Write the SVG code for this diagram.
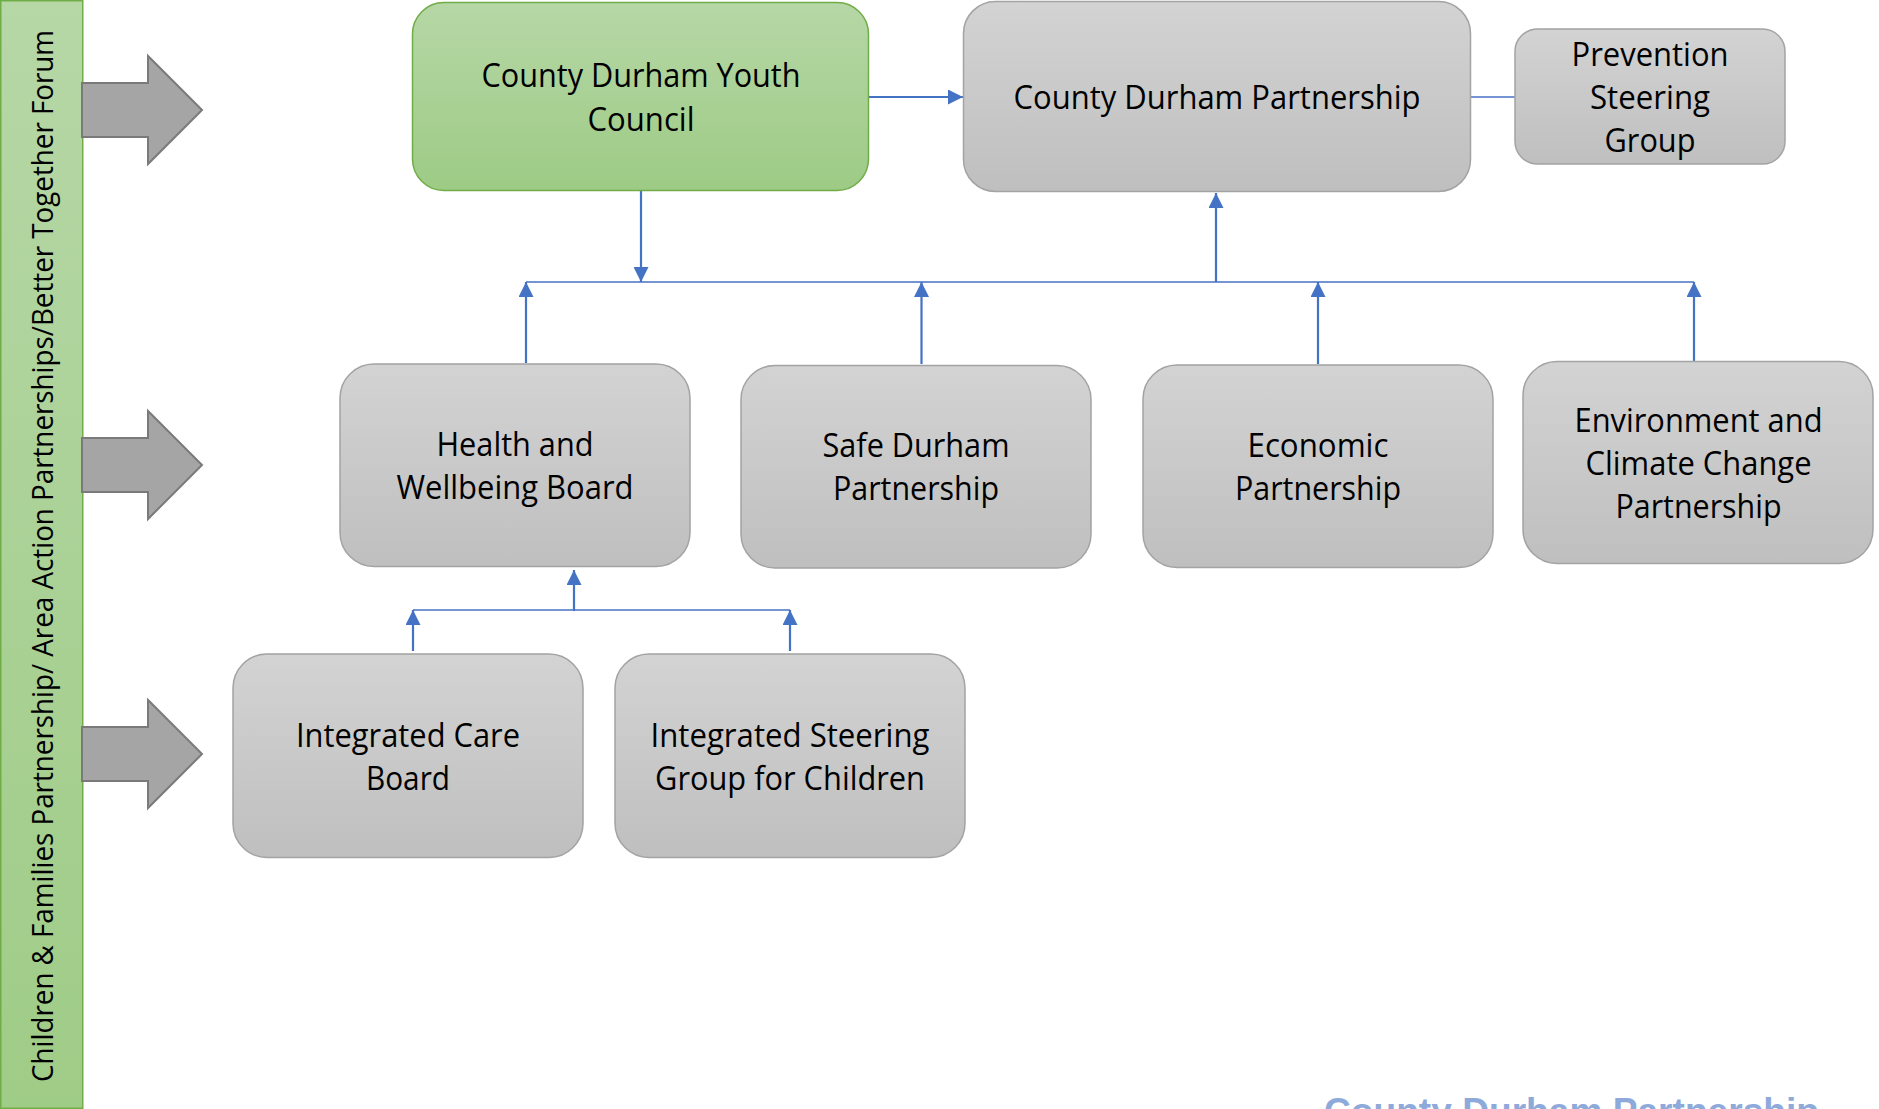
<svg xmlns="http://www.w3.org/2000/svg" width="1879" height="1109" viewBox="0 0 1879 1109">
<style>
.box{fill:url(#gGray);stroke:#a3a3a3;stroke-width:1.5}
.gbox{fill:url(#gGreen);stroke:#70ad47;stroke-width:1.5}
.t{font-family:"Open Sans","Noto Sans",sans-serif;font-size:32px;fill:#000;text-anchor:middle}
.c{fill:none;stroke:#4472c4;stroke-width:2.2}
.cb{fill:none;stroke:#4472c4;stroke-width:1.5}
.blk{fill:#a5a5a5;stroke:#7a7a7a;stroke-width:2}
</style>
<defs>
<linearGradient id="gGray" x1="0" y1="0" x2="0" y2="1">
<stop offset="0" stop-color="#d3d3d3"/><stop offset="1" stop-color="#bfbfbf"/>
</linearGradient>
<linearGradient id="gGreen" x1="0" y1="0" x2="0" y2="1">
<stop offset="0" stop-color="#b6d7a6"/><stop offset="1" stop-color="#9dcb85"/>
</linearGradient>
<linearGradient id="gBar" x1="0" y1="0" x2="0" y2="1">
<stop offset="0" stop-color="#b6d7a6"/><stop offset="1" stop-color="#9fcc87"/>
</linearGradient>
<marker id="ah" markerUnits="userSpaceOnUse" markerWidth="15" markerHeight="15" refX="15" refY="7.5" orient="auto">
<path d="M0,0 L15,7.5 L0,15 z" fill="#4472c4"/>
</marker>
</defs>
<rect width="1879" height="1109" fill="#fff"/>

<g id="sidebar">
<rect x="0.75" y="0.75" width="82" height="1107.5" fill="url(#gBar)" stroke="#70ad47" stroke-width="1.5"/>
<text class="t" transform="translate(53,1082) rotate(-90)" style="text-anchor:start;font-size:29.5px" textLength="1052" lengthAdjust="spacingAndGlyphs">Children &amp; Families Partnership/ Area Action Partnerships/Better Together Forum</text>
</g>

<g id="block-arrows">
<polygon class="blk" points="82,83 148,83 148,56 202,110 148,164 148,137 82,137"/>
<polygon class="blk" points="82,438 148,438 148,411 202,465 148,519 148,492 82,492"/>
<polygon class="blk" points="82,727 148,727 148,700 202,754 148,808 148,781 82,781"/>
</g>

<g id="connectors">
<line class="c" x1="869" y1="97" x2="963" y2="97" marker-end="url(#ah)"/>
<line class="cb" x1="1471" y1="97" x2="1515" y2="97"/>
<line class="c" x1="641" y1="191" x2="641" y2="282" marker-end="url(#ah)"/>
<line class="cb" x1="526" y1="282" x2="1694" y2="282"/>
<line class="c" x1="1216" y1="282" x2="1216" y2="193" marker-end="url(#ah)"/>
<line class="c" x1="526" y1="363" x2="526" y2="282" marker-end="url(#ah)"/>
<line class="c" x1="921.5" y1="364" x2="921.5" y2="282" marker-end="url(#ah)"/>
<line class="c" x1="1318" y1="364" x2="1318" y2="282" marker-end="url(#ah)"/>
<line class="c" x1="1694" y1="361" x2="1694" y2="282" marker-end="url(#ah)"/>
<line class="cb" x1="413" y1="610" x2="790" y2="610"/>
<line class="c" x1="574" y1="611" x2="574" y2="570" marker-end="url(#ah)"/>
<line class="c" x1="413" y1="651" x2="413" y2="610" marker-end="url(#ah)"/>
<line class="c" x1="790" y1="651" x2="790" y2="610" marker-end="url(#ah)"/>
</g>

<g id="youth-council">
<rect class="gbox" x="412.5" y="2.5" width="456" height="188" rx="31.5"/>
<text class="t" x="641" y="87" textLength="319" lengthAdjust="spacingAndGlyphs">County Durham Youth</text>
<text class="t" x="641" y="131" textLength="107" lengthAdjust="spacingAndGlyphs">Council</text>
</g>

<g id="county-durham-partnership">
<rect class="box" x="963.5" y="1.5" width="507" height="190" rx="32"/>
<text class="t" x="1217" y="108.5" textLength="407" lengthAdjust="spacingAndGlyphs">County Durham Partnership</text>
</g>

<g id="prevention-steering-group">
<rect class="box" x="1515" y="29" width="270" height="135" rx="22.5"/>
<text class="t" x="1650" y="65.5" textLength="157" lengthAdjust="spacingAndGlyphs">Prevention</text>
<text class="t" x="1650" y="108.5" textLength="120" lengthAdjust="spacingAndGlyphs">Steering</text>
<text class="t" x="1650" y="151.5" textLength="91" lengthAdjust="spacingAndGlyphs">Group</text>
</g>

<g id="health-wellbeing-board">
<rect class="box" x="340" y="364" width="350" height="202.5" rx="34"/>
<text class="t" x="515" y="456" textLength="157" lengthAdjust="spacingAndGlyphs">Health and</text>
<text class="t" x="515" y="499" textLength="237" lengthAdjust="spacingAndGlyphs">Wellbeing Board</text>
</g>

<g id="safe-durham-partnership">
<rect class="box" x="741" y="365.5" width="350" height="202.5" rx="34"/>
<text class="t" x="916" y="457" textLength="187" lengthAdjust="spacingAndGlyphs">Safe Durham</text>
<text class="t" x="916" y="500" textLength="166" lengthAdjust="spacingAndGlyphs">Partnership</text>
</g>

<g id="economic-partnership">
<rect class="box" x="1143" y="365" width="350" height="202.5" rx="34"/>
<text class="t" x="1318" y="457" textLength="141" lengthAdjust="spacingAndGlyphs">Economic</text>
<text class="t" x="1318" y="500" textLength="166" lengthAdjust="spacingAndGlyphs">Partnership</text>
</g>

<g id="environment-climate-change-partnership">
<rect class="box" x="1523" y="361.5" width="350" height="202" rx="34"/>
<text class="t" x="1698.5" y="432" textLength="248" lengthAdjust="spacingAndGlyphs">Environment and</text>
<text class="t" x="1698.5" y="475" textLength="226" lengthAdjust="spacingAndGlyphs">Climate Change</text>
<text class="t" x="1698.5" y="518" textLength="166" lengthAdjust="spacingAndGlyphs">Partnership</text>
</g>

<g id="integrated-care-board">
<rect class="box" x="233" y="654" width="350" height="203.5" rx="34"/>
<text class="t" x="408" y="746.5" textLength="224" lengthAdjust="spacingAndGlyphs">Integrated Care</text>
<text class="t" x="408" y="790" textLength="84" lengthAdjust="spacingAndGlyphs">Board</text>
</g>

<g id="integrated-steering-group">
<rect class="box" x="615" y="654" width="350" height="203.5" rx="34"/>
<text class="t" x="790" y="746.5" textLength="279" lengthAdjust="spacingAndGlyphs">Integrated Steering</text>
<text class="t" x="790" y="790" textLength="270" lengthAdjust="spacingAndGlyphs">Group for Children</text>
</g>

<g id="footer">
<text x="1324" y="1123.5" font-family="'Liberation Sans',Arial,sans-serif" font-weight="bold" font-size="37" fill="#8eaadb" textLength="495" lengthAdjust="spacingAndGlyphs">County Durham Partnership</text>
</g>
</svg>
